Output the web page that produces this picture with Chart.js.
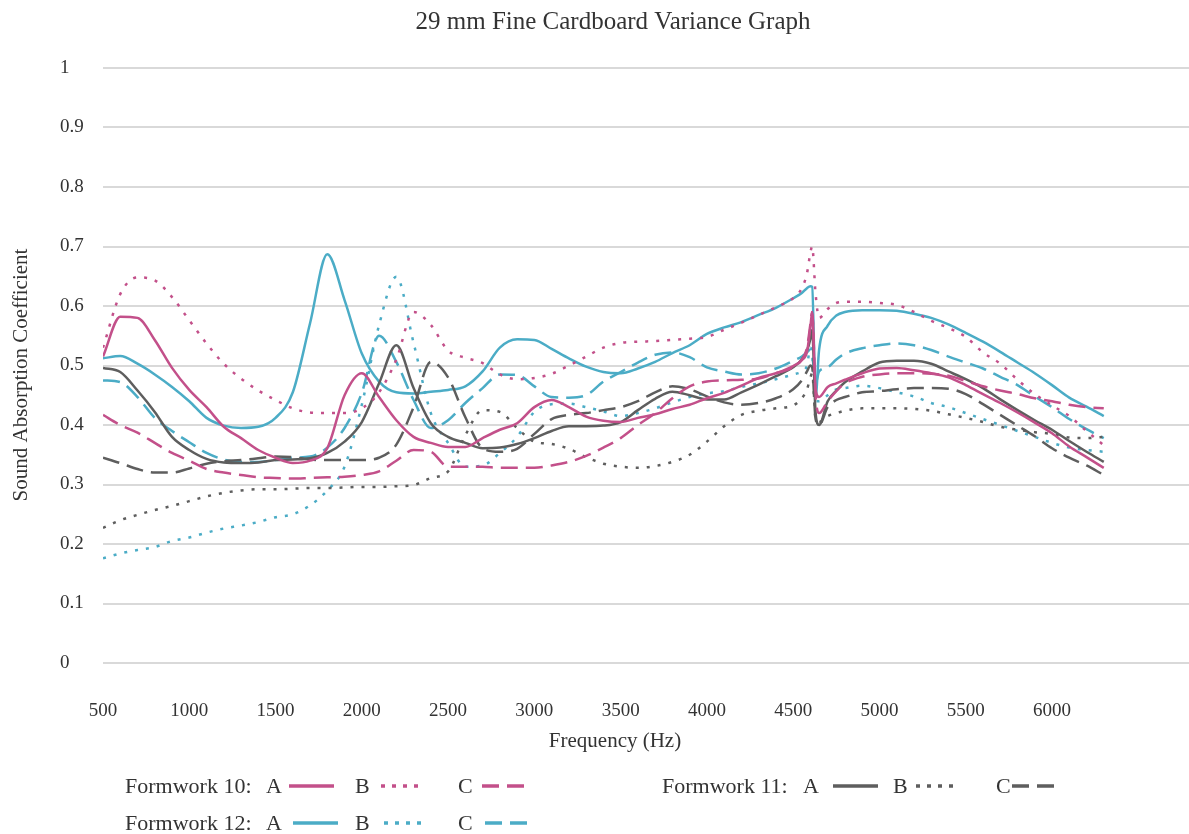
<!DOCTYPE html>
<html>
<head>
<meta charset="utf-8">
<title>29 mm Fine Cardboard Variance Graph</title>
<script src="https://cdn.jsdelivr.net/npm/chart.js@4/dist/chart.umd.min.js"></script>
<style>
    body {
        margin: 0;
        background: #ffffff;
    }

    #wrap {
        position: relative;
        width: 1189px;
        height: 834px;
    }

    #legend span {
        position: absolute;
        font-family: "Liberation Serif", serif;
        font-size: 22px;
        line-height: 24px;
        color: #333333;
        white-space: nowrap;
    }

    #legend svg {
        position: absolute;
    }
</style>
</head>
<body>

<div id="wrap">
    <canvas id="varianceChart" width="1189" height="834"></canvas>
    <div id="legend"></div>
</div>

<script>
// ===============================
// DATA
// ===============================

const frequencies = [
    500, 600, 700, 800, 900, 1000, 1100, 1200, 1300, 1400,
    1500, 1600, 1700, 1800, 1900, 2000, 2100, 2200, 2300, 2400,
    2500, 2600, 2700, 2800, 2900, 3000, 3100, 3200, 3300, 3400,
    3500, 3600, 3700, 3800, 3900, 4000, 4100, 4200, 4300, 4400,
    4500,
    4550, 4580, 4600, 4610, 4630, 4650, 4700, 4750, 4800,
    4900, 5000, 5100, 5200, 5300, 5400, 5500, 5600, 5700, 5800,
    5900, 6000, 6100, 6200, 6300
];

const formwork10A = [
    0.515, 0.582, 0.58, 0.543, 0.496, 0.459, 0.43, 0.397, 0.378, 0.358,
    0.345, 0.336, 0.34, 0.361, 0.45, 0.487, 0.447, 0.408, 0.38, 0.37,
    0.363, 0.363, 0.378, 0.392, 0.403, 0.43, 0.442, 0.43, 0.414, 0.407,
    0.405, 0.412, 0.418, 0.427, 0.434, 0.445, 0.454, 0.466, 0.479, 0.487,
    0.499,
    0.509, 0.523, 0.565, 0.59, 0.46, 0.447, 0.464, 0.47, 0.476,
    0.487, 0.495, 0.496, 0.492, 0.487, 0.48, 0.467, 0.452, 0.437, 0.421,
    0.404, 0.386, 0.364, 0.346, 0.328
];

const formwork10B = [
    0.53, 0.62, 0.648, 0.643, 0.615, 0.576, 0.537, 0.503, 0.478, 0.458,
    0.442, 0.428, 0.421, 0.42, 0.42, 0.428, 0.455, 0.51, 0.59, 0.568,
    0.525, 0.513, 0.504, 0.485, 0.477, 0.479, 0.486, 0.5, 0.515, 0.53,
    0.538, 0.54, 0.541, 0.543, 0.545, 0.548, 0.56, 0.572, 0.585, 0.598,
    0.613,
    0.63, 0.655, 0.69, 0.70, 0.62, 0.58, 0.595, 0.605, 0.607,
    0.607, 0.605, 0.602, 0.59, 0.575, 0.563, 0.548, 0.522, 0.503, 0.476,
    0.452, 0.433, 0.415, 0.39, 0.366
];

const formwork10C = [
    0.417, 0.40, 0.387, 0.37, 0.353, 0.34, 0.326, 0.32, 0.316, 0.312,
    0.311, 0.31, 0.311, 0.312, 0.313, 0.316, 0.322, 0.34, 0.358, 0.355,
    0.33, 0.33, 0.33, 0.328, 0.328, 0.328, 0.332, 0.338, 0.348, 0.362,
    0.378, 0.40, 0.42, 0.445, 0.465, 0.473, 0.475, 0.476, 0.478, 0.487,
    0.497,
    0.51, 0.53, 0.57, 0.59, 0.45, 0.42, 0.44, 0.457, 0.47,
    0.481, 0.485, 0.487, 0.487, 0.486, 0.483, 0.474, 0.465, 0.458, 0.452,
    0.445, 0.44, 0.434, 0.43, 0.428
];

const formwork11A = [
    0.496, 0.489, 0.458, 0.422, 0.38, 0.358, 0.343, 0.337, 0.336, 0.337,
    0.341, 0.342, 0.344, 0.353, 0.372, 0.405, 0.47, 0.534, 0.462, 0.403,
    0.38, 0.37, 0.361, 0.362, 0.368, 0.378, 0.39, 0.398, 0.398, 0.399,
    0.405, 0.425, 0.444, 0.456, 0.45, 0.443, 0.443, 0.455, 0.468, 0.482,
    0.497,
    0.51, 0.525, 0.545, 0.56, 0.42, 0.40, 0.44, 0.458, 0.472,
    0.49, 0.505, 0.508, 0.508, 0.503, 0.49, 0.477, 0.462, 0.443, 0.425,
    0.408, 0.392, 0.373, 0.355, 0.338
];

const formwork11B = [
    0.227, 0.24, 0.249, 0.257, 0.264, 0.272, 0.28, 0.286, 0.29, 0.292,
    0.292, 0.293, 0.294, 0.294, 0.295, 0.296, 0.296, 0.297, 0.299, 0.311,
    0.322, 0.383, 0.425, 0.422, 0.395, 0.372, 0.368, 0.36, 0.346, 0.335,
    0.33, 0.328, 0.331, 0.338, 0.35, 0.372, 0.398, 0.417, 0.424, 0.428,
    0.433,
    0.445, 0.46, 0.48, 0.487, 0.41, 0.405, 0.415, 0.42, 0.424,
    0.428, 0.428, 0.428, 0.427, 0.424, 0.418, 0.412, 0.405, 0.397, 0.392,
    0.388, 0.385, 0.379, 0.378, 0.38
];

const formwork11C = [
    0.345, 0.336, 0.326, 0.32, 0.32, 0.327, 0.335, 0.339, 0.341, 0.344,
    0.347, 0.346, 0.342, 0.341, 0.341, 0.341, 0.345, 0.367, 0.43, 0.506,
    0.48, 0.413, 0.361, 0.355, 0.36, 0.385, 0.41, 0.417, 0.42, 0.425,
    0.43, 0.44, 0.455, 0.465, 0.46, 0.448, 0.438, 0.434, 0.437, 0.445,
    0.46,
    0.475, 0.49, 0.5, 0.497, 0.41, 0.40, 0.43, 0.442, 0.447,
    0.455, 0.457, 0.46, 0.462, 0.462, 0.461, 0.452, 0.435, 0.417, 0.399,
    0.381, 0.361, 0.345, 0.332, 0.316
];

const formwork12A = [
    0.512, 0.516, 0.503, 0.485, 0.464, 0.44, 0.412, 0.399, 0.395, 0.397,
    0.412, 0.455, 0.571, 0.687, 0.61, 0.52, 0.473, 0.455, 0.453, 0.456,
    0.459, 0.465, 0.49, 0.53, 0.544, 0.543, 0.528, 0.512, 0.498, 0.489,
    0.487, 0.495, 0.506, 0.521, 0.534, 0.553, 0.564, 0.573, 0.585, 0.597,
    0.613,
    0.622, 0.63, 0.633, 0.632, 0.447, 0.526, 0.567, 0.584, 0.59,
    0.593, 0.593, 0.592, 0.587, 0.58, 0.569, 0.555, 0.54, 0.523, 0.505,
    0.487, 0.467, 0.446, 0.431, 0.415
];

const formwork12B = [
    0.176, 0.184, 0.19, 0.195, 0.205, 0.211, 0.219, 0.226, 0.231, 0.237,
    0.245, 0.25, 0.265, 0.29, 0.33, 0.434, 0.568, 0.649, 0.538, 0.42,
    0.37, 0.33, 0.332, 0.353, 0.38, 0.422, 0.435, 0.436, 0.43, 0.423,
    0.415, 0.42, 0.428, 0.438, 0.447, 0.453, 0.457, 0.464, 0.47, 0.477,
    0.485,
    0.49, 0.5, 0.53, 0.52, 0.44, 0.44, 0.45, 0.46, 0.462,
    0.466, 0.462, 0.455, 0.448, 0.437, 0.43, 0.42, 0.41, 0.40, 0.39,
    0.38, 0.37, 0.362, 0.358, 0.355
];

const formwork12C = [
    0.475, 0.472, 0.447, 0.412, 0.39, 0.371, 0.353, 0.342, 0.338, 0.338,
    0.341, 0.345, 0.347, 0.362, 0.395, 0.454, 0.55, 0.506, 0.442, 0.395,
    0.408, 0.437, 0.462, 0.485, 0.484, 0.465, 0.447, 0.446, 0.45, 0.473,
    0.489, 0.505, 0.518, 0.522, 0.514, 0.497, 0.49, 0.485, 0.487, 0.495,
    0.508,
    0.515, 0.522, 0.527, 0.52, 0.47, 0.49, 0.497, 0.51, 0.52,
    0.529, 0.534, 0.537, 0.534, 0.526, 0.515, 0.505, 0.495, 0.481, 0.467,
    0.448, 0.43, 0.41, 0.393, 0.378
];

const xTickValues = [500, 1000, 1500, 2000, 2500, 3000, 3500, 4000, 4500, 5000, 5500, 6000];

const yTickValues = [0, 0.1, 0.2, 0.3, 0.4, 0.5, 0.6, 0.7, 0.8, 0.9, 1];

// ===============================
// STYLE
// ===============================

const PINK = "#C3508A";
const GREY = "#5E5E5E";
const CYAN = "#4BACC6";

const SOLID = [];
const DOTTED = [3, 8];
const DASHED = [17, 8];

const FONT = "'Liberation Serif', serif";
const TEXT_COLOR = "#333333";

const seriesList = [
    { label: "Formwork 10: A", values: formwork10A, color: PINK, dash: SOLID },
    { label: "Formwork 10: B", values: formwork10B, color: PINK, dash: DOTTED },
    { label: "Formwork 10: C", values: formwork10C, color: PINK, dash: DASHED },
    { label: "Formwork 11: A", values: formwork11A, color: GREY, dash: SOLID },
    { label: "Formwork 11: B", values: formwork11B, color: GREY, dash: DOTTED },
    { label: "Formwork 11: C", values: formwork11C, color: GREY, dash: DASHED },
    { label: "Formwork 12: A", values: formwork12A, color: CYAN, dash: SOLID },
    { label: "Formwork 12: B", values: formwork12B, color: CYAN, dash: DOTTED },
    { label: "Formwork 12: C", values: formwork12C, color: CYAN, dash: DASHED }
];

// =================================
// TITLES (drawn as text on canvas)
// =================================

const titlePlugin = {

    id: "titlePlugin",

    afterDraw(chart) {

        const ctx = chart.ctx;

        ctx.save();

        ctx.fillStyle = TEXT_COLOR;
        ctx.textAlign = "center";
        ctx.textBaseline = "middle";

        ctx.font = "25px " + FONT;
        ctx.fillText("29 mm Fine Cardboard Variance Graph", 613, 22);

        ctx.font = "21px " + FONT;
        ctx.fillText("Frequency (Hz)", 615, 741);

        ctx.translate(21, 375);
        ctx.rotate(-Math.PI / 2);
        ctx.fillText("Sound Absorption Coefficient", 0, 0);

        ctx.restore();
    }
};

// =================================
// CHART
// =================================

function createChart() {

    const canvas =
        document.getElementById("varianceChart");

    new Chart(canvas, {

        type: "line",

        data: {

            datasets: seriesList.map(s => ({

                label: s.label,

                data: frequencies.map((f, i) => ({ x: f, y: s.values[i] })),

                borderColor: s.color,

                borderWidth: 2.5,

                borderDash: s.dash,

                pointRadius: 0,

                fill: false,

                cubicInterpolationMode: "monotone"
            }))
        },

        options: {

            responsive: false,

            animation: false,

            layout: {
                padding: { top: 68, left: 60, right: 0, bottom: 111 }
            },

            plugins: {
                legend: { display: false },
                title: { display: false },
                tooltip: { enabled: false }
            },

            scales: {

                x: {

                    type: "linear",

                    min: 500,

                    max: 6794,

                    afterBuildTicks: axis => {
                        axis.ticks = xTickValues.map(v => ({ value: v }));
                    },

                    afterFit: scale => {
                        scale.height = 60;
                    },

                    grid: { display: false },

                    border: { display: false },

                    ticks: {
                        color: TEXT_COLOR,
                        font: { family: FONT, size: 19 },
                        padding: 29,
                        maxRotation: 0,
                        autoSkip: false,
                        callback: v => String(v)
                    }
                },

                y: {

                    min: 0,

                    max: 1,

                    afterBuildTicks: axis => {
                        axis.ticks = yTickValues.map(v => ({ value: v }));
                    },

                    afterFit: scale => {
                        scale.width = 43;
                    },

                    grid: {
                        color: "#D9D9D9",
                        lineWidth: 2,
                        drawTicks: false
                    },

                    border: { display: false },

                    ticks: {
                        color: TEXT_COLOR,
                        font: { family: FONT, size: 19 },
                        crossAlign: "far",
                        callback: v => String(Math.round(v * 10) / 10)
                    }
                }
            }
        },

        plugins: [titlePlugin]
    });
}

// =================================
// LEGEND (html, below the plot)
// =================================

function addText(parent, text, left, centerY) {

    const span = document.createElement("span");

    span.textContent = text;
    span.style.left = left + "px";
    span.style.top = (centerY - 12) + "px";

    parent.appendChild(span);
}

function addSample(parent, color, dash, left, width, centerY) {

    const ns = "http://www.w3.org/2000/svg";

    const svg = document.createElementNS(ns, "svg");

    svg.setAttribute("width", width);
    svg.setAttribute("height", 8);
    svg.style.left = left + "px";
    svg.style.top = (centerY - 4) + "px";

    const line = document.createElementNS(ns, "line");

    line.setAttribute("x1", 0);
    line.setAttribute("y1", 4);
    line.setAttribute("x2", width);
    line.setAttribute("y2", 4);
    line.setAttribute("stroke", color);
    line.setAttribute("stroke-width", 3.5);

    if (dash.length) {
        line.setAttribute("stroke-dasharray", dash.join(" "));
    }

    svg.appendChild(line);
    parent.appendChild(svg);
}

function buildLegend() {

    const legend = document.getElementById("legend");

    const groups = [
        { name: "Formwork 10:", color: PINK, left: 125, y: 786, a: 266, la: 289, b: 355, lb: 381, c: 458, lc: 482 },
        { name: "Formwork 11:", color: GREY, left: 662, y: 786, a: 803, la: 833, b: 893, lb: 916, c: 996, lc: 1012 },
        { name: "Formwork 12:", color: CYAN, left: 125, y: 823, a: 266, la: 293, b: 355, lb: 384, c: 458, lc: 485 }
    ];

    groups.forEach(g => {

        addText(legend, g.name, g.left, g.y);

        addText(legend, "A", g.a, g.y);
        addSample(legend, g.color, SOLID, g.la, 45, g.y);

        addText(legend, "B", g.b, g.y);
        addSample(legend, g.color, [4, 7], g.lb, 40, g.y);

        addText(legend, "C", g.c, g.y);
        addSample(legend, g.color, [17, 8], g.lc, 44, g.y);
    });
}

window.onload = function () {

    createChart();

    buildLegend();
};
</script>

</body>
</html>
